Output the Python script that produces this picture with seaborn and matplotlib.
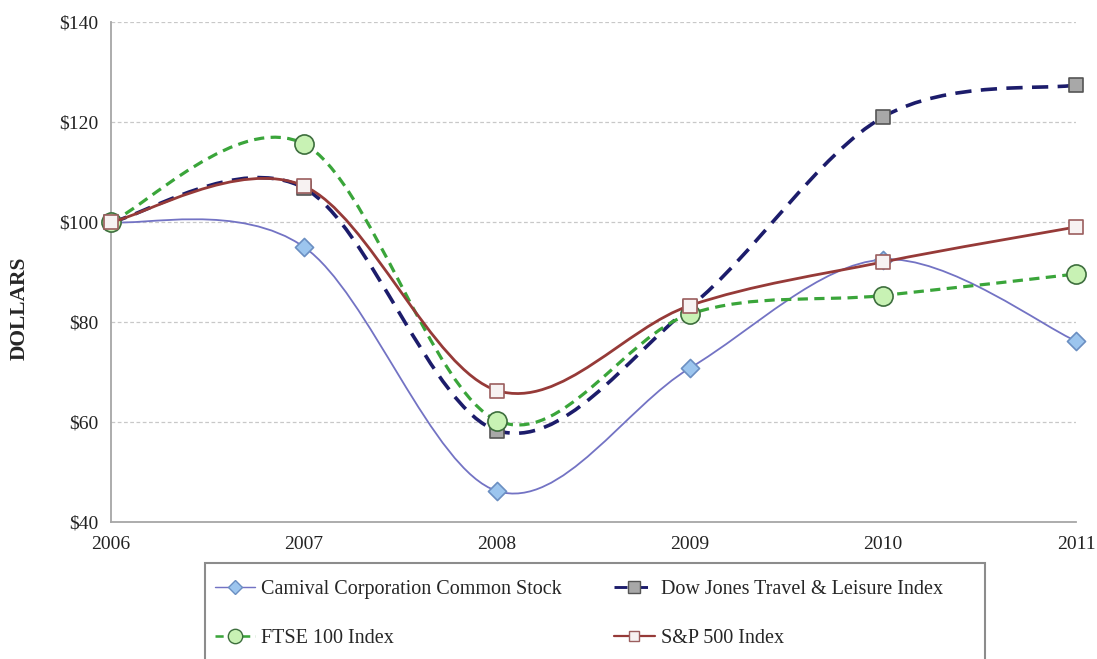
import numpy as np
import pandas as pd
import matplotlib
matplotlib.use("Agg")
import matplotlib.pyplot as plt
from matplotlib.path import Path
from matplotlib.patches import PathPatch, Rectangle
from matplotlib.lines import Line2D
import seaborn as sns

# ----------------------------
# Data
# ----------------------------
years = [2006, 2007, 2008, 2009, 2010, 2011]
carnival = [100.0, 95.0, 46.2, 70.8, 92.5, 76.2]
dow_jones = [100.0, 106.8, 58.3, 83.0, 121.0, 127.4]
ftse = [100.0, 115.6, 60.3, 81.6, 85.3, 89.6]
sp500 = [100.0, 107.2, 66.3, 83.3, 92.0, 99.0]

series_names = ["Camival Corporation Common Stock",
                "Dow Jones Travel & Leisure Index",
                "FTSE 100 Index",
                "S&P 500 Index"]
y_ticks = [40, 60, 80, 100, 120, 140]
y_ticklabels = ["$40", "$60", "$80", "$100", "$120", "$140"]

df = pd.DataFrame({
    "year": years * 4,
    "value": carnival + dow_jones + ftse + sp500,
    "series": np.repeat(series_names, len(years)),
})

# line / marker styles per series
styles = {
    series_names[0]: dict(color="#7373c4", lw=1.3, ls="-", marker="D", s=85,
                          fc="#9cc5ee", ec="#6b8fc2"),
    series_names[1]: dict(color="#1c1c6b", lw=2.6, ls=(0, (4.5, 2.6)), marker="s", s=115,
                          fc="#a8a8a8", ec="#555555"),
    series_names[2]: dict(color="#3aa53a", lw=2.3, ls=(0, (3.2, 2.0)), marker="o", s=190,
                          fc="#c8f2b4", ec="#3d6e3d"),
    series_names[3]: dict(color="#963a38", lw=2.0, ls="-", marker="s", s=105,
                          fc="#f7f2f2", ec="#9b5e5e"),
}


def smooth_path(xs, ys):
    # Excel style smoothed line: cubic bezier through the points
    pts = np.column_stack([xs, ys]).astype(float)
    n = len(pts)
    verts = [tuple(pts[0])]
    codes = [Path.MOVETO]
    for i in range(n - 1):
        p_prev = pts[max(i - 1, 0)]
        p_next = pts[min(i + 2, n - 1)]
        c1 = pts[i] + (pts[i + 1] - p_prev) / 6.0
        c2 = pts[i + 1] - (p_next - pts[i]) / 6.0
        verts += [tuple(c1), tuple(c2), tuple(pts[i + 1])]
        codes += [Path.CURVE4] * 3
    return Path(verts, codes)


sns.set_style("white")
plt.rcParams["font.family"] = ["Liberation Serif", "DejaVu Serif"]

W, H = 1097, 659
fig = plt.figure(figsize=(W / 100, H / 100), dpi=100)
ax = fig.add_axes([111 / W, 1 - 522 / H, (1076 - 111) / W, 500 / H])

for k, name in enumerate(series_names):
    st = styles[name]
    sub = df[df["series"] == name]
    patch = PathPatch(smooth_path(sub["year"], sub["value"]), fill=False,
                      edgecolor=st["color"], linewidth=st["lw"], linestyle=st["ls"],
                      zorder=2 + 2 * k, clip_on=False)
    ax.add_patch(patch)
    sns.scatterplot(data=sub, x="year", y="value", marker=st["marker"], s=st["s"],
                    color=st["fc"], edgecolor=st["ec"], linewidth=1.2,
                    zorder=3 + 2 * k, clip_on=False, ax=ax, legend=False)

ax.set_xlim(2006, 2011)
ax.set_ylim(40, 140)
ax.set_xticks(years)
ax.set_xticklabels([str(y) for y in years], fontsize=14)
ax.set_yticks(y_ticks)
ax.set_yticklabels(y_ticklabels, fontsize=14)
ax.set_xlabel("")
ax.set_ylabel("")
fig.text(20 / W, 1 - 308 / H, "DOLLARS", rotation=90, fontsize=15.5,
         fontweight="bold", ha="center", va="center")

for y in y_ticks[1:]:
    ax.axhline(y, color="#c8c8c8", lw=0.9, ls=(0, (3, 2)), zorder=1)

for side in ["top", "right"]:
    ax.spines[side].set_visible(False)
for side in ["left", "bottom"]:
    ax.spines[side].set_color("#a6a6a6")
    ax.spines[side].set_linewidth(1.3)
ax.tick_params(axis="y", colors="#a6a6a6", labelcolor="#222222",
               direction="out", length=5, width=1.1, pad=4)
ax.tick_params(axis="x", colors="#a6a6a6", labelcolor="#222222",
               direction="inout", length=8, width=1.1, pad=6)

# ----------------------------
# Legend (row-major order: Carnival, Dow Jones / FTSE, S&P)
# ----------------------------
handles = {}
for name in series_names:
    st = styles[name]
    handles[name] = Line2D([], [], color=st["color"], lw=st["lw"] * 0.8, ls=st["ls"],
                           marker=st["marker"], markersize=np.sqrt(st["s"]) * 0.75,
                           markerfacecolor=st["fc"], markeredgecolor=st["ec"])
order = [series_names[0], series_names[2], series_names[1], series_names[3]]

leg = fig.legend([handles[n] for n in order], order, loc="upper left", ncol=2,
                 bbox_to_anchor=(215 / W, 1 - 580 / H),
                 fontsize=14.5, frameon=False,
                 handlelength=2.0, handletextpad=0.3, labelspacing=1.5,
                 columnspacing=2.6, borderpad=0, borderaxespad=0)

fig.patches.append(Rectangle((205 / W, 1 - 665 / H), 780 / W, 102 / H,
                             transform=fig.transFigure, fill=False,
                             edgecolor="#8c8c8c", linewidth=1.5))

plt.savefig("out.png", dpi=100)
plt.close()
